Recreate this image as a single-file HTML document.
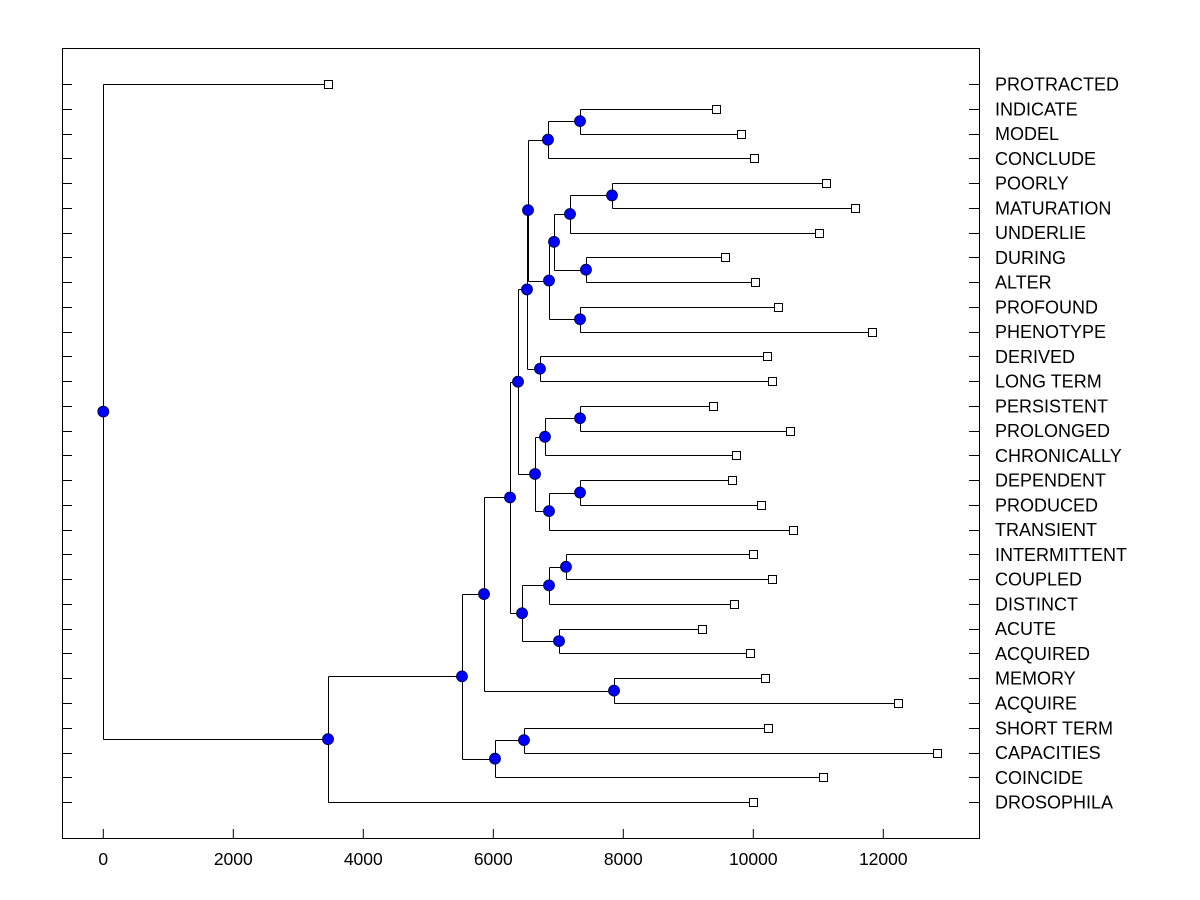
<!DOCTYPE html>
<html><head><meta charset="utf-8"><style>
html,body{margin:0;padding:0;background:#fff;}
svg{display:block;font-family:"Liberation Sans",Arial,sans-serif;}
</style></head><body>
<svg id="chart" width="1200" height="900">
<rect x="0" y="0" width="1200" height="900" fill="#fff"/>
<rect x="62.5" y="48.5" width="917" height="790" fill="none" stroke="#000" stroke-width="1"/>
<g id="axes"></g><g id="links"></g><g id="marks"></g><g id="labels"></g>
</svg>
<script>
const leafNames = ["PROTRACTED","INDICATE","MODEL","CONCLUDE","POORLY","MATURATION","UNDERLIE","DURING","ALTER","PROFOUND","PHENOTYPE","DERIVED","LONG TERM","PERSISTENT","PROLONGED","CHRONICALLY","DEPENDENT","PRODUCED","TRANSIENT","INTERMITTENT","COUPLED","DISTINCT","ACUTE","ACQUIRED","MEMORY","ACQUIRE","SHORT TERM","CAPACITIES","COINCIDE","DROSOPHILA"];
const leafValues = [3457,9420,9810,10010,11120,11560,11010,9560,10020,10380,11820,10210,10290,9380,10570,9730,9670,10120,10610,9990,10290,9700,9210,9950,10180,12230,10230,12830,11070,9990];
const mergeLeft  = [1,30,4,32,7,33,9,35,31,11,38,13,41,16,43,42,40,19,47,22,48,46,24,51,26,54,53,56,0];
const mergeRight = [2,3,5,6,8,34,10,36,37,12,39,14,15,17,18,44,45,20,21,23,49,50,25,52,27,28,55,29,57];
const mergeHeight= [7334,6841,7826,7180,7426,6934,7334,6857,6534,6718,6518,7334,6795,7334,6857,6642,6380,7118,6857,7011,6442,6257,7857,5857,6472,6026,5518,3457,0];
const xTicks = [0,2000,4000,6000,8000,10000,12000];

const NS="http://www.w3.org/2000/svg";
const X0=103.3, XS=0.065, Y0=84, YS=24.76;
const xs=v=>X0+v*XS;
const ys=i=>Y0+i*YS;
function mk(tag,attrs,parent){const e=document.createElementNS(NS,tag);for(const k in attrs)e.setAttribute(k,attrs[k]);document.getElementById(parent).appendChild(e);return e;}

xTicks.forEach(t=>{
  const l=mk('line',{x1:xs(t),x2:xs(t),y1:838,y2:829,stroke:'#000'},'axes');
  
  
  const tx=mk('text',{x:xs(t),y:865,'text-anchor':'middle','font-size':'17.5'},'axes');
  tx.textContent=t;
  
  
});
leafNames.forEach((n,i)=>{
  const y=Math.round(ys(i))+0.5;
  const a=mk('line',{x1:62,x2:72,y1:y,y2:y,stroke:'#000'},'axes');
  
  
  const b=mk('line',{x1:969,x2:979,y1:y,y2:y,stroke:'#000'},'axes');
  
  
  const tx=mk('text',{x:995,y:ys(i)+6.5,'font-size':'18'},'labels');
  tx.textContent=n;
  
  
});

const nx=[],ny=[];
leafValues.forEach((v,i)=>{nx.push(v);ny.push(ys(i));});
mergeHeight.forEach((h,k)=>{
  const a=mergeLeft[k],b=mergeRight[k];
  nx.push(h);ny.push((ny[a]+ny[b])/2);
});
mergeHeight.forEach((h,k)=>{
  const a=mergeLeft[k],b=mergeRight[k];
  const px=Math.round(xs(h))+0.5;
  const v=mk('line',{x1:px,x2:px,y1:Math.round(ny[a])+0.5,y2:Math.round(ny[b])+0.5,stroke:'#000'},'links');
  
  
  [a,b].forEach(c=>{
    const y=Math.round(ny[c])+0.5;
    const l=mk('line',{x1:px,x2:xs(nx[c]),y1:y,y2:y,stroke:'#000'},'links');
    
    
  });
});
leafValues.forEach((v,i)=>{
  const r=mk('rect',{x:Math.round(xs(v))-3.5,y:Math.round(ys(i))-3.5,width:8,height:8,fill:'#fff',stroke:'#000'},'marks');
  
  
});
mergeHeight.forEach((h,k)=>{
  const id=leafNames.length+k;
  const c=mk('circle',{cx:xs(h),cy:ny[id],r:5.5,fill:'#0000ff',stroke:'#000040','stroke-width':'0.8'},'marks');
  
  
});
</script>
</body></html>
